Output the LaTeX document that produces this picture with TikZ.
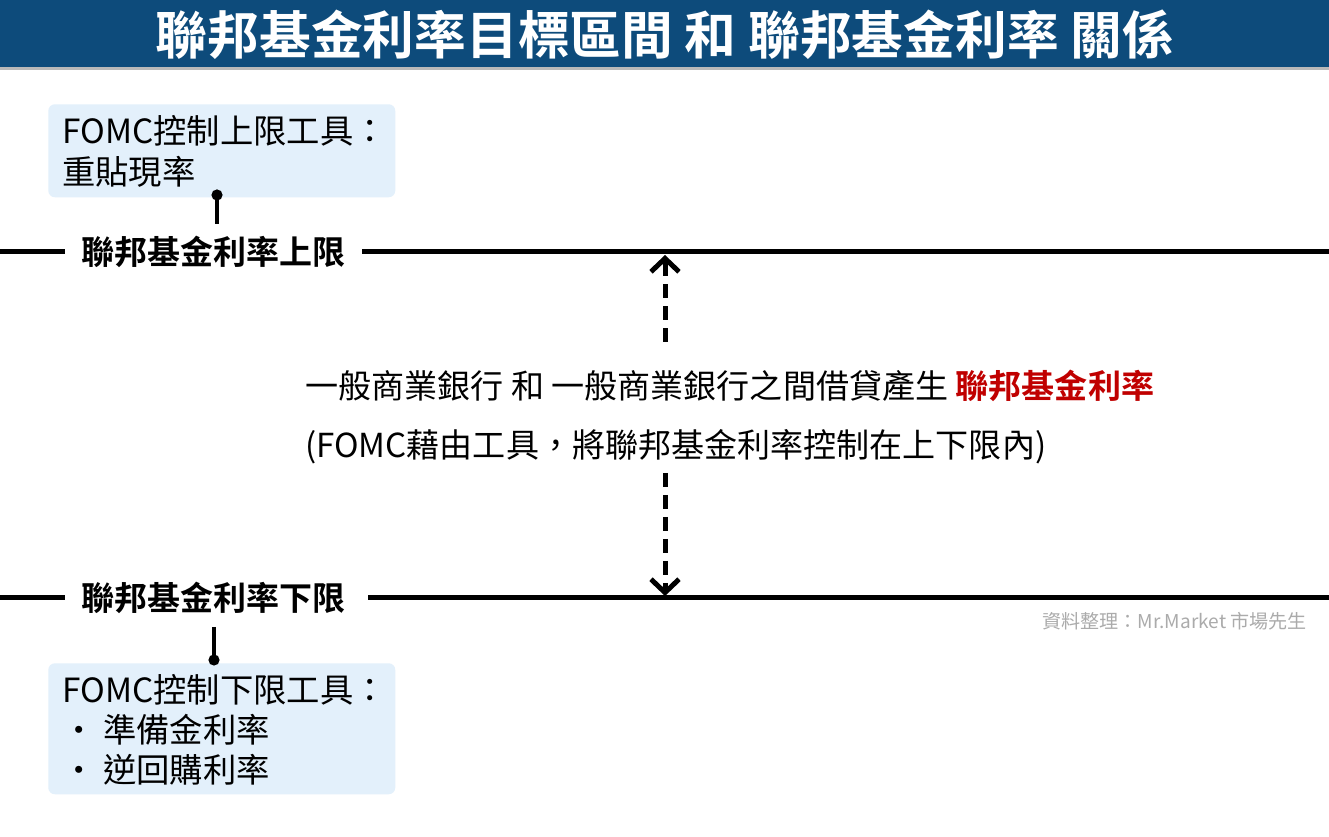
\documentclass[tikz,border=0pt]{standalone}
\usepackage{fontspec}
\setmainfont{Noto Sans CJK TC}[BoldFont={Noto Sans CJK TC Bold}]
\usetikzlibrary{arrows.meta}
\definecolor{titleblue}{HTML}{0D4B7B}
\definecolor{boxblue}{HTML}{E3F0FB}
\definecolor{hired}{HTML}{C00000}
\definecolor{creditgray}{HTML}{ABABAB}
\begin{document}
\begin{tikzpicture}[x=0.75pt,y=-0.75pt,
  mainline/.style={line width=3.75pt},
  conn/.style={line width=2.6pt},
  dotmark/.style={fill=black},
  toolbox/.style={fill=boxblue, rounded corners=5pt, draw=none, inner sep=0pt},
  titletext/.style={font=\fontsize{38.8pt}{40pt}\selectfont\bfseries, text=white, inner sep=0pt},
  lbl/.style={font=\fontsize{24.75pt}{30pt}\selectfont\bfseries, inner sep=0pt},
  boxtext/.style={font=\fontsize{25pt}{30.75pt}\selectfont, align=left, anchor=west, inner sep=0pt},
  midtext/.style={font=\fontsize{24.8pt}{28pt}\selectfont, anchor=west, inner sep=0pt},
  credit/.style={font=\fontsize{14.3pt}{16pt}\selectfont, text=creditgray, anchor=east, inner sep=0pt},
  darrow/.style={line width=3.75pt, dash pattern=on 10.5pt off 6pt,
    -{Straight Barb[length=10pt,width=21pt,line width=3.75pt]}}
]
\useasboundingbox (0,0) rectangle (1329,837);
\fill[white] (0,0) rectangle (1329,837);
% title bar
\fill[titleblue] (0,0) rectangle (1329,67);
\fill[gray!55] (0,67) rectangle (1329,70);
\node[titletext] (title) at (665,35) {聯邦基金利率目標區間 和 聯邦基金利率 關係};

% upper tool box
\node[toolbox, minimum width=260.25pt, minimum height=69.75pt, anchor=north west] (upbox) at (48,104) {};
\node[boxtext] (uptext) at (62,151) {FOMC控制上限工具：\\重貼現率};

% upper limit line
\node[lbl] (uplabel) at (213.5,252) {聯邦基金利率上限};
\coordinate (upL0) at (0,252);
\coordinate (upL1) at (65,252);
\coordinate (upR0) at (362,252);
\coordinate (upR1) at (1329,252);
\draw[mainline] (upL0) -- (upL1);
\draw[mainline] (upR0) -- (upR1);

% upper connector
\coordinate (updot) at (217,195);
\coordinate (uptick) at (217,224);
\draw[conn] (updot) -- (uptick);
\fill[dotmark] (updot) circle[radius=4.2pt];

% lower limit line
\node[lbl] (lowlabel) at (213.5,598) {聯邦基金利率下限};
\coordinate (loL0) at (0,598);
\coordinate (loL1) at (65,598);
\coordinate (loR0) at (368,598);
\coordinate (loR1) at (1329,598);
\draw[mainline] (loL0) -- (loL1);
\draw[mainline] (loR0) -- (loR1);

% lower tool box
\node[toolbox, minimum width=260.25pt, minimum height=98.25pt, anchor=north west] (lowbox) at (48,663) {};
\node[boxtext, font=\fontsize{25pt}{30pt}\selectfont] (lowtext) at (62,730) {FOMC控制下限工具：\\・ 準備金利率\\・ 逆回購利率};

% lower connector
\coordinate (lotick) at (214,627);
\coordinate (lodot) at (214,660);
\draw[conn] (lotick) -- (lodot);
\fill[dotmark] (lodot) circle[radius=4.2pt];

% middle text
\node[midtext] (mid1) at (305,386) {一般商業銀行 和 一般商業銀行之間借貸產生 \textcolor{hired}{\bfseries 聯邦基金利率}};
\node[midtext] (mid2) at (305,447) {(FOMC藉由工具，將聯邦基金利率控制在上下限內)};

% dashed arrows
\coordinate (uparrowstart) at (665,342);
\coordinate (uparrowtip) at (665,255);
\draw[darrow] (uparrowstart) -- (uparrowtip);
\coordinate (downarrowstart) at (665,473);
\coordinate (downarrowtip) at (665,596);
\draw[darrow] (downarrowstart) -- (downarrowtip);

% credit
\node[credit] (creditnode) at (1307,621) {資料整理：Mr.Market 市場先生};
\end{tikzpicture}
\end{document}
